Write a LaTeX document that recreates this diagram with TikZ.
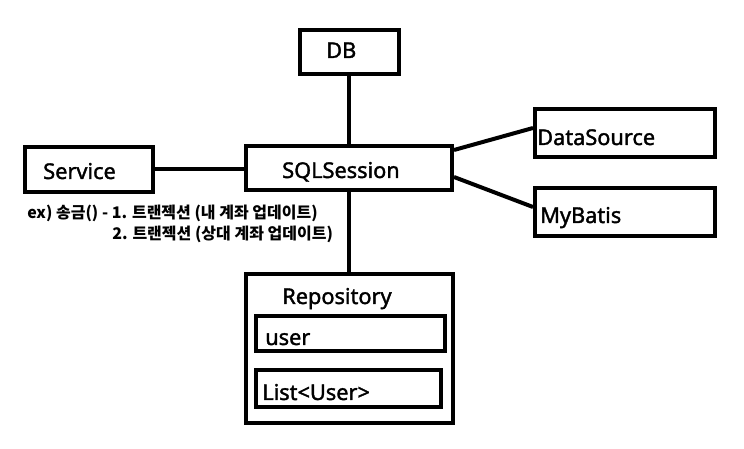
\documentclass[tikz,border=0pt]{standalone}
\usepackage{fontspec}
\setmainfont{Noto Sans}[AutoFakeBold=1.6]
\newfontfamily\kr{Noto Sans CJK KR}
\begin{document}
\begin{tikzpicture}[x=0.75pt,y=-0.75pt,
  box/.style={draw=black,line width=3pt,fill=white,inner sep=0pt,rectangle},
  lbl/.style={anchor=base west,inner sep=0pt,font=\fontsize{16.3}{19}\selectfont\bfseries},
  note/.style={anchor=base west,inner sep=0pt,font=\kr\fontsize{12}{14}\selectfont\bfseries},
  conn/.style={line width=3pt}]
\useasboundingbox[fill=white] (0,0) rectangle (744,449);
\node[box,minimum width=74.25pt,minimum height=33pt] (db) at (349,52) {};
\node[box,minimum width=154.5pt,minimum height=33pt] (sql) at (349,168) {};
\node[box,minimum width=96pt,minimum height=33.75pt] (svc) at (89,169.5) {};
\node[box,minimum width=135pt,minimum height=36pt] (ds) at (625,133) {};
\node[box,minimum width=135pt,minimum height=36pt] (mb) at (625,212) {};
\node[box,minimum width=155.25pt,minimum height=111.75pt] (repo) at (349,348.5) {};
\node[box,minimum width=141.75pt,minimum height=26.25pt] (user) at (350.5,333.5) {};
\node[box,minimum width=138.75pt,minimum height=27.75pt] (list) at (348.5,388.5) {};
\draw[conn] (db.south) -- (sql.north);
\draw[conn] (svc.east) -- (sql.west |- svc.east);
\draw[conn] ([yshift=13.5pt]sql.east) -- ([yshift=3.75pt]ds.west);
\draw[conn] ([yshift=-6.75pt]sql.east) -- ([yshift=3.75pt]mb.west);
\draw[conn] (sql.south) -- (repo.north);
\node[lbl] (tdb) at (326,58) {DB};
\node[lbl] (tsql) at (282,178) {SQLSession};
\node[lbl] (tsvc) at (43,179) {Service};
\node[lbl] (tds) at (537,145) {DataSource};
\node[lbl] (tmb) at (540,223) {MyBatis};
\node[lbl] (trepo) at (282,304) {Repository};
\node[lbl] (tuser) at (265,345) {user};
\node[lbl] (tlist) at (262,400) {List<User>};
\node[note] (n1) at (27,219) {ex) 송금() - 1. 트랜젝션 (내 계좌 업데이트)};
\node[note] (n2) at (112,240) {2. 트랜젝션 (상대 계좌 업데이트)};
\end{tikzpicture}
\end{document}
